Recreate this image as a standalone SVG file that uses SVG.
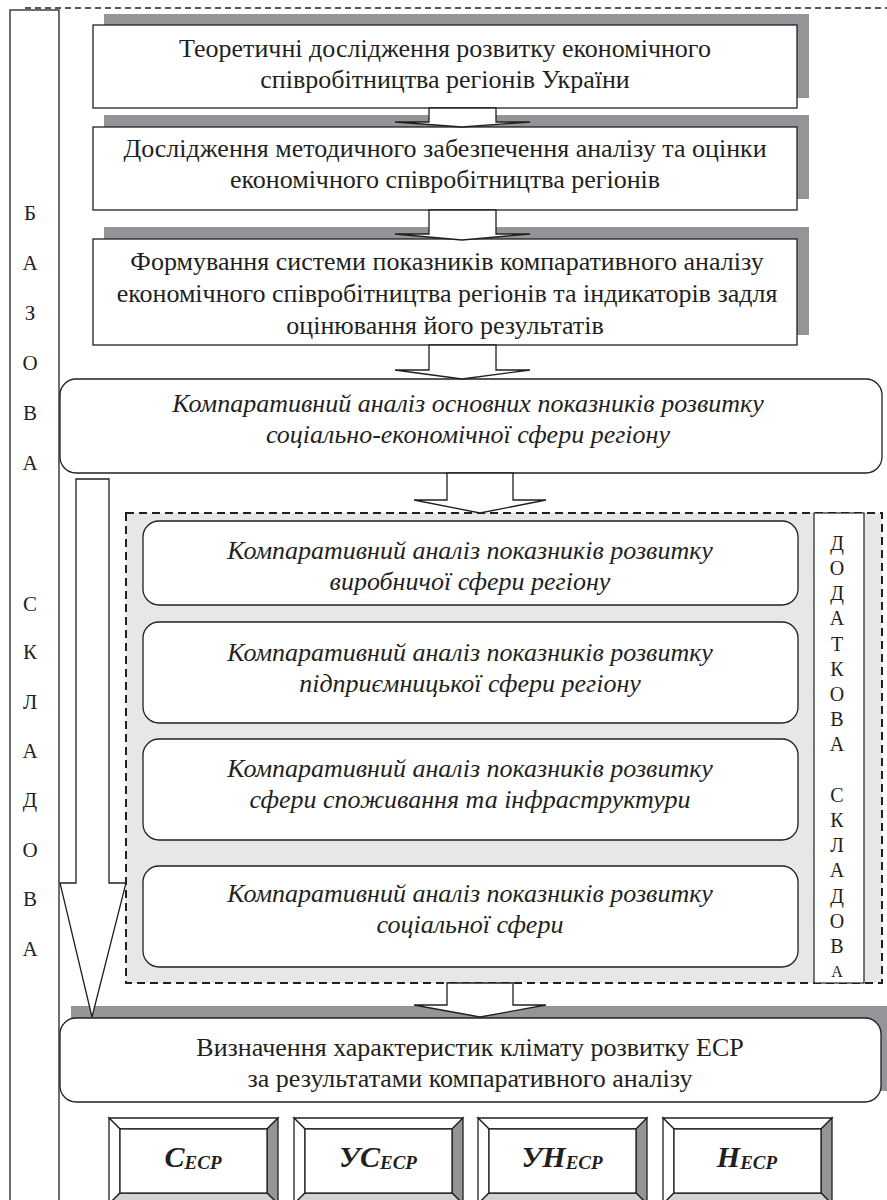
<svg xmlns="http://www.w3.org/2000/svg" xmlns:xlink="http://www.w3.org/1999/xlink" width="887" height="1200" viewBox="0 0 887 1200">
<style>
.t{font-family:"Liberation Serif","Times New Roman",serif;font-size:26px;fill:#231f20;text-anchor:middle}
.i{font-style:italic}
.l{font-family:"Liberation Serif","Times New Roman",serif;font-size:21px;fill:#231f20;text-anchor:middle}
.r{font-family:"Liberation Serif","Times New Roman",serif;font-size:20px;fill:#231f20;text-anchor:middle}
.b{font-family:"Liberation Serif","Times New Roman",serif;font-size:30px;font-weight:bold;font-style:italic;fill:#231f20;text-anchor:middle}
.box{fill:#fff;stroke:#231f20;stroke-width:1.3}
.sh{fill:#939598}
.arr{fill:#fff;stroke:#231f20;stroke-width:1.3;stroke-linejoin:miter}
</style>
<defs>
<g id="bevel">
<polygon points="0,0 169,0 158,11 11,11" fill="#fff" stroke="#231f20" stroke-width="1.3"/>
<polygon points="0,0 11,11 11,75 0,86" fill="#fff" stroke="#231f20" stroke-width="1.3"/>
<polygon points="169,0 169,86 158,75 158,11" fill="#939598" stroke="#231f20" stroke-width="1.3"/>
<polygon points="0,86 11,75 158,75 169,86" fill="#d1d3d4" stroke="#231f20" stroke-width="1.3"/>
<rect x="11" y="11" width="147" height="64" fill="#fff" stroke="#231f20" stroke-width="1.3"/>
</g>
</defs>
<rect width="887" height="1200" fill="#fff"/>

<g id="frame">
<line x1="25" y1="8" x2="887" y2="8" stroke="#231f20" stroke-width="1.3" stroke-dasharray="6,4"/>
<rect x="10" y="10" width="49" height="1200" fill="none" stroke="#231f20" stroke-width="1.3"/>
</g>

<g id="side-left">
<text class="l" x="30" y="220">Б</text>
<text class="l" x="30" y="270">А</text>
<text class="l" x="30" y="320">З</text>
<text class="l" x="30" y="370">О</text>
<text class="l" x="30" y="420">В</text>
<text class="l" x="30" y="470">А</text>
<text class="l" x="30" y="611">С</text>
<text class="l" x="30" y="659">К</text>
<text class="l" x="30" y="709">Л</text>
<text class="l" x="30" y="758">А</text>
<text class="l" x="30" y="807">Д</text>
<text class="l" x="30" y="857">О</text>
<text class="l" x="30" y="906">В</text>
<text class="l" x="30" y="956">А</text>
</g>

<g id="n1">
<rect class="sh" x="104" y="14" width="705" height="84"/>
<rect class="box" x="93" y="25" width="704" height="83"/>
<text class="t" x="445" y="57">Теоретичні дослідження розвитку економічного</text>
<text class="t" x="445" y="88">співробітництва регіонів України</text>
</g>

<g id="n2">
<rect class="sh" x="104" y="115" width="705" height="84"/>
<rect class="box" x="93" y="127" width="704" height="83"/>
<text class="t" x="445" y="157">Дослідження методичного забезпечення аналізу та оцінки</text>
<text class="t" x="445" y="188">економічного співробітництва регіонів</text>
</g>

<g id="n3">
<rect class="sh" x="104" y="227" width="705" height="108"/>
<rect class="box" x="93" y="239" width="704" height="106"/>
<text class="t" x="447" y="270">Формування системи показників компаративного аналізу</text>
<text class="t" x="447" y="302">економічного співробітництва регіонів та індикаторів задля</text>
<text class="t" x="445" y="334">оцінювання його результатів</text>
</g>

<g id="n4">
<rect class="box" x="60" y="379" width="822" height="94" rx="16"/>
<text class="t i" x="468" y="412">Компаративний аналіз основних показників розвитку</text>
<text class="t i" x="468" y="443">соціально-економічної сфери регіону</text>
</g>

<g id="group-extra">
<rect x="126" y="513" width="756" height="470" fill="#e6e7e8" stroke="#231f20" stroke-width="2" stroke-dasharray="8,5"/>
<rect x="814" y="513" width="50" height="470" fill="#fff" stroke="#231f20" stroke-width="1.2"/>
<text class="r" x="837" y="550">Д</text>
<text class="r" x="837" y="575">О</text>
<text class="r" x="837" y="600">Д</text>
<text class="r" x="837" y="625">А</text>
<text class="r" x="837" y="651">Т</text>
<text class="r" x="837" y="676">К</text>
<text class="r" x="837" y="701">О</text>
<text class="r" x="837" y="726">В</text>
<text class="r" x="837" y="751">А</text>
<text class="r" x="837" y="802">С</text>
<text class="r" x="837" y="827">К</text>
<text class="r" x="837" y="852">Л</text>
<text class="r" x="837" y="877">А</text>
<text class="r" x="837" y="903">Д</text>
<text class="r" x="837" y="928">О</text>
<text class="r" x="837" y="953">В</text>
<text class="r" x="837" y="977" style="font-size:16px">А</text>
</g>

<g id="nA">
<rect class="box" x="143" y="521" width="655" height="84" rx="16"/>
<text class="t i" x="470" y="559">Компаративний аналіз показників розвитку</text>
<text class="t i" x="470" y="590">виробничої сфери регіону</text>
</g>
<g id="nB">
<rect class="box" x="143" y="622" width="655" height="101" rx="16"/>
<text class="t i" x="470" y="661">Компаративний аналіз показників розвитку</text>
<text class="t i" x="470" y="692">підприємницької сфери регіону</text>
</g>
<g id="nC">
<rect class="box" x="143" y="739" width="655" height="101" rx="16"/>
<text class="t i" x="470" y="777">Компаративний аналіз показників розвитку</text>
<text class="t i" x="470" y="808">сфери споживання та інфраструктури</text>
</g>
<g id="nD">
<rect class="box" x="143" y="866" width="655" height="101" rx="16"/>
<text class="t i" x="470" y="902">Компаративний аналіз показників розвитку</text>
<text class="t i" x="470" y="933">соціальної сфери</text>
</g>

<g id="nE">
<rect class="sh" x="71" y="1006" width="822" height="85"/>
<rect class="box" x="60" y="1018" width="821" height="84" rx="16"/>
<text class="t" x="470" y="1056">Визначення характеристик клімату розвитку ЕСР</text>
<text class="t" x="470" y="1087">за результатами компаративного аналізу</text>
</g>

<g id="connectors">
<polygon class="arr" points="429,108 496,108 496,122 530,122 462,127 395,122 429,122"/>
<polygon class="arr" points="429,210 496,210 496,234 530,234 462,240 395,234 429,234"/>
<polygon class="arr" points="429,345 496,345 496,370 530,370 462,379 395,370 429,370"/>
<polygon class="arr" points="447,473 513,473 513,500 546,500 480,513 414,500 447,500"/>
<polygon class="arr" points="447,983 513,983 513,1005 546,1005 480,1017 414,1005 447,1005"/>
<polygon class="arr" points="76,479 109,479 109,883 126,883 92,1017 60,883 76,883"/>
</g>

<g id="nC1">
<use xlink:href="#bevel" x="109" y="1118"/>
<text class="b" x="193" y="1167">С<tspan font-size="19" dy="2">ЕСР</tspan></text>
</g>
<g id="nC2">
<use xlink:href="#bevel" x="294" y="1118"/>
<text class="b" x="378" y="1167">УС<tspan font-size="19" dy="2">ЕСР</tspan></text>
</g>
<g id="nC3">
<use xlink:href="#bevel" x="478" y="1118"/>
<text class="b" x="562" y="1167">УН<tspan font-size="19" dy="2">ЕСР</tspan></text>
</g>
<g id="nC4">
<use xlink:href="#bevel" x="663" y="1118"/>
<text class="b" x="747" y="1167">Н<tspan font-size="19" dy="2">ЕСР</tspan></text>
</g>
</svg>
